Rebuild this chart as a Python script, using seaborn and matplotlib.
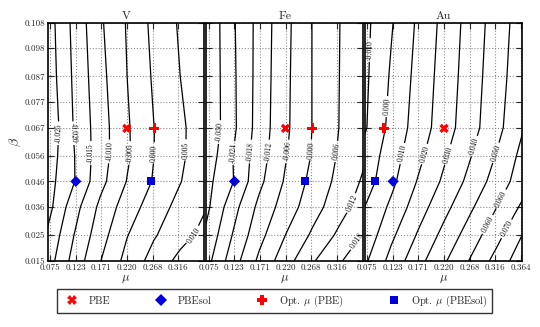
import numpy as np
import pandas as pd
import seaborn as sns
import matplotlib
matplotlib.use('Agg')
import matplotlib.pyplot as plt
from matplotlib.lines import Line2D

mu_grid = [0.07, 0.12, 0.17, 0.22, 0.27, 0.32, 0.37]
beta_grid = [0.015, 0.025, 0.036, 0.046, 0.056, 0.067, 0.087, 0.108]

err_V = [
    [-0.0226, -0.0132, -0.0051, 0.0016, 0.0068, 0.0114, 0.0156],
    [-0.0243, -0.0150, -0.0070, -0.0002, 0.0045, 0.0082, 0.0117],
    [-0.0270, -0.0170, -0.0088, -0.0025, 0.0024, 0.0066, 0.0099],
    [-0.0271, -0.0203, -0.0115, -0.0048, 0.0004, 0.0048, 0.0090],
    [-0.0280, -0.0202, -0.0122, -0.0057, -0.0001, 0.0042, 0.0080],
    [-0.0290, -0.0197, -0.0122, -0.0056, -0.0001, 0.0042, 0.0078],
    [-0.0280, -0.0192, -0.0115, -0.0050, 0.0006, 0.0050, 0.0083],
    [-0.0275, -0.0187, -0.0107, -0.0046, 0.0013, 0.0056, 0.0088],
]
err_Fe = [
    [-0.0264, -0.0149, -0.0048, 0.0035, 0.0113, 0.0172, 0.0227],
    [-0.0289, -0.0178, -0.0079, 0.0001, 0.0069, 0.0131, 0.0189],
    [-0.0316, -0.0204, -0.0105, -0.0032, 0.0034, 0.0095, 0.0153],
    [-0.0320, -0.0244, -0.0135, -0.0052, 0.0017, 0.0076, 0.0132],
    [-0.0342, -0.0241, -0.0148, -0.0064, 0.0004, 0.0066, 0.0115],
    [-0.0355, -0.0254, -0.0155, -0.0071, 0.0001, 0.0060, 0.0108],
    [-0.0355, -0.0252, -0.0158, -0.0073, 0.0001, 0.0059, 0.0108],
    [-0.0355, -0.0249, -0.0160, -0.0076, 0.0001, 0.0058, 0.0108],
]
err_Au = [
    [0.0081, 0.0232, 0.0364, 0.0488, 0.0610, 0.0739, 0.0871],
    [0.0030, 0.0179, 0.0309, 0.0431, 0.0550, 0.0671, 0.0810],
    [0.0000, 0.0120, 0.0252, 0.0370, 0.0486, 0.0602, 0.0725],
    [-0.0050, 0.0074, 0.0206, 0.0319, 0.0432, 0.0546, 0.0659],
    [-0.0067, 0.0051, 0.0172, 0.0287, 0.0397, 0.0510, 0.0636],
    [-0.0112, 0.0030, 0.0143, 0.0254, 0.0364, 0.0472, 0.0600],
    [-0.0121, 0.0012, 0.0130, 0.0243, 0.0352, 0.0461, 0.0570],
    [-0.0127, -0.0009, 0.0115, 0.0231, 0.0342, 0.0449, 0.0558],
]

levels_V = [-0.025, -0.020, -0.015, -0.010, -0.005, 0.000, 0.005, 0.010]
levels_Fe = [-0.030, -0.024, -0.018, -0.012, -0.006, 0.000, 0.006, 0.012, 0.018]
levels_Au = [-0.010, 0.000, 0.010, 0.020, 0.030, 0.040, 0.050, 0.060, 0.070, 0.080]

elements = ['V', 'Fe', 'Au']

# functional parameters
mu_pbe, beta_pbe = 0.2195, 0.0667
mu_pbesol, beta_pbesol = 0.1235, 0.046
opt_mu_pbe = [0.271, 0.270, 0.1066]
opt_mu_pbesol = [0.265, 0.256, 0.0903]

xtick_vals = [0.075, 0.123, 0.171, 0.220, 0.268, 0.316, 0.364]
xtick_labels = ['0.075', '0.123', '0.171', '0.220', '0.268', '0.316', '0.364']
ytick_vals = [0.015, 0.025, 0.036, 0.046, 0.056, 0.067, 0.077, 0.087, 0.098, 0.108]
ytick_labels = ['0.015', '0.025', '0.036', '0.046', '0.056', '0.067', '0.077', '0.087', '0.098', '0.108']

legend_labels = ['PBE', 'PBEsol', r'Opt. $\mu$ (PBE)', r'Opt. $\mu$ (PBEsol)']
marker_map = dict(zip(legend_labels, ['X', 'D', 'P', 's']))
color_map = dict(zip(legend_labels, ['#ff0000', '#0000dd', '#ff0000', '#0000dd']))
size_map = dict(zip(legend_labels, [45, 32, 50, 32]))

# where the contour labels sit (mu, beta)
label_pos = {
    'V': [(0.0915, 0.0648), (0.1171, 0.0648), (0.1504, 0.0571), (0.1847, 0.0577),
          (0.2248, 0.0571), (0.2705, 0.0571), (0.3283, 0.0583), (0.3454, 0.025)],
    'Fe': [(0.0984, 0.0652), (0.1206, 0.0571), (0.1524, 0.0577), (0.1861, 0.0577),
           (0.2233, 0.0577), (0.2674, 0.0583), (0.3149, 0.0577), (0.3437, 0.0375),
           (0.3595, 0.0219)],
    'Au': [(0.0814, 0.0973), (0.113, 0.0752), (0.1383, 0.057), (0.1761, 0.057),
           (0.2172, 0.057), (0.2676, 0.0603), (0.3087, 0.0577), (0.3182, 0.040),
           (0.315, 0.0277), (0.3466, 0.0264)],
}

sns.set_style('ticks')
plt.rcParams['font.family'] = 'serif'
plt.rcParams['font.serif'] = ['cmr10', 'DejaVu Serif']
plt.rcParams['mathtext.fontset'] = 'cm'
plt.rcParams['axes.unicode_minus'] = False
plt.rcParams['contour.negative_linestyle'] = 'solid'

fig, axes = plt.subplots(1, 3, figsize=(5.4, 3.27), dpi=100, sharey=True)
fig.subplots_adjust(left=0.0883, right=0.966, top=0.9306, bottom=0.2028, wspace=0.012)

panels = zip(axes, elements, [err_V, err_Fe, err_Au], [levels_V, levels_Fe, levels_Au],
             opt_mu_pbe, opt_mu_pbesol)
for i, (ax, name, err, lv, mo_pbe, mo_sol) in enumerate(panels):
    cs = ax.contour(mu_grid, beta_grid, np.array(err), levels=lv, colors='k',
                    linewidths=0.9, linestyles='solid')
    ax.clabel(cs, fmt='%.3f', fontsize=5.5, inline=True, inline_spacing=2,
              manual=label_pos[name])

    pts = pd.DataFrame({
        'mu': [mu_pbe, mu_pbesol, mo_pbe, mo_sol],
        'beta': [beta_pbe, beta_pbesol, beta_pbe, beta_pbesol],
        'kind': legend_labels,
    })
    sns.scatterplot(data=pts, x='mu', y='beta', hue='kind', style='kind', size='kind',
                    palette=color_map, markers=marker_map, sizes=size_map,
                    linewidth=0, legend=False, ax=ax, zorder=5)

    ax.set_xlim(0.0705, 0.3655)
    ax.set_ylim(0.015, 0.108)
    # the last mu tick is only labelled on the right-most panel
    n = len(xtick_vals) if i == 2 else len(xtick_vals) - 1
    ax.set_xticks(xtick_vals[:n])
    ax.set_xticklabels(xtick_labels[:n])
    ax.set_yticks(ytick_vals)
    ax.set_yticklabels(ytick_labels)
    ax.grid(True, color='0.55', linestyle=':', linewidth=0.8)
    ax.tick_params(direction='in', top=True, right=True, length=4, width=0.8,
                   labelsize=6.5, pad=2)
    for sp in ax.spines.values():
        sp.set_linewidth(1.2)
        sp.set_color('k')
    ax.set_title(name, fontsize=8.5, pad=3)
    ax.set_xlabel(r'$\mu$', fontsize=9, labelpad=1)
    ax.set_ylabel('')

axes[0].set_ylabel(r'$\beta$', fontsize=10, labelpad=1)

handles = [Line2D([], [], linestyle='none', marker=marker_map[k], color=color_map[k],
                  markeredgewidth=0, markersize=np.sqrt(size_map[k])) for k in legend_labels]
leg = fig.legend(handles, legend_labels, loc='center', ncol=4, mode='expand',
                 bbox_to_anchor=(52 / 540, 1 - 310 / 327, 445 / 540, 18 / 327),
                 fontsize=7.5, frameon=True, fancybox=False, borderpad=0.4,
                 handletextpad=0.6)
leg.get_frame().set_edgecolor('k')
leg.get_frame().set_linewidth(1.0)

fig.savefig('out.png', dpi=100)
